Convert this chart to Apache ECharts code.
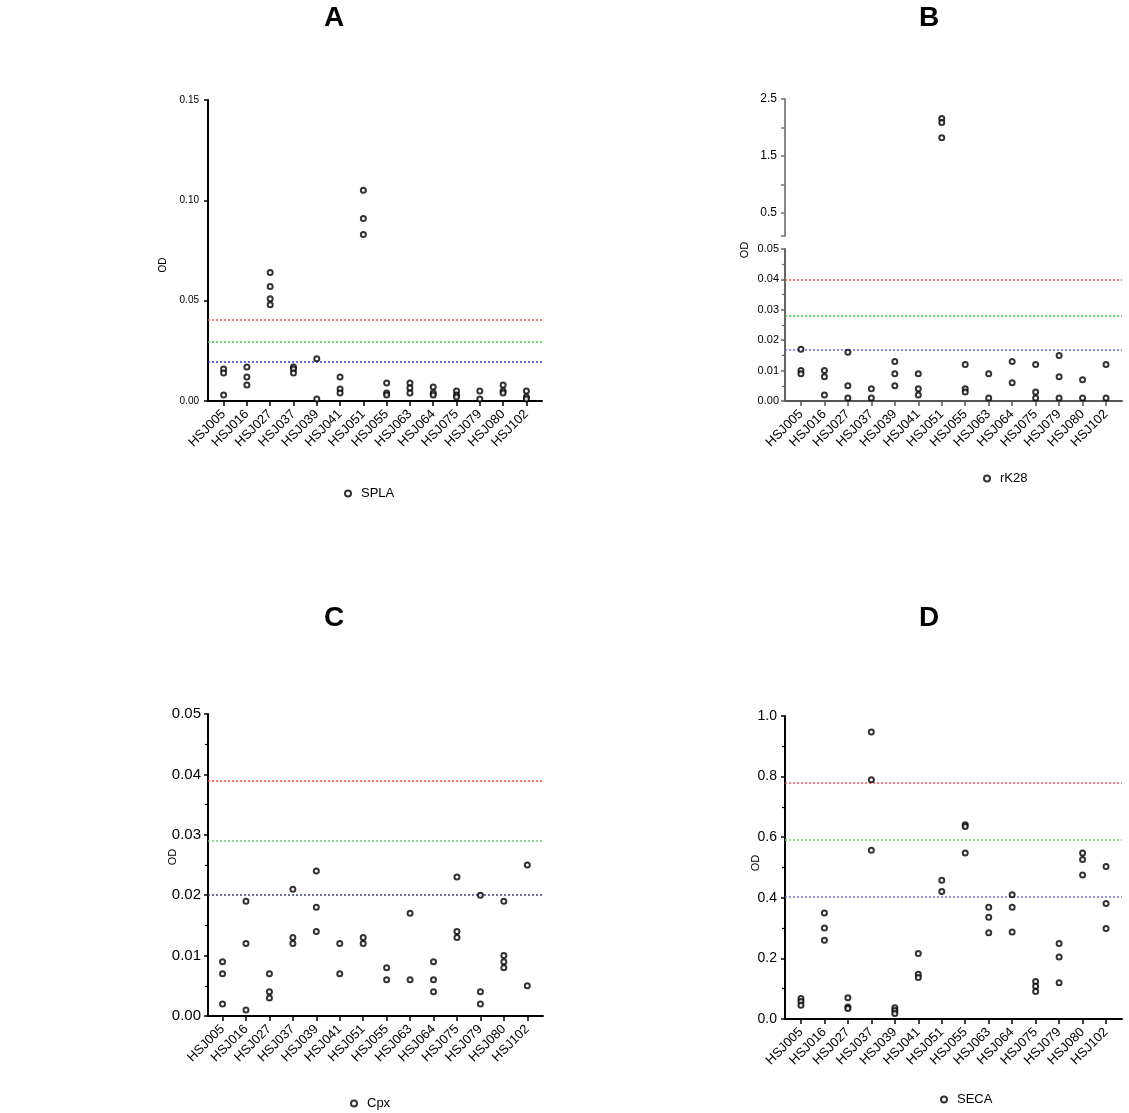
<!DOCTYPE html>
<html>
<head>
<meta charset="utf-8">
<script src="https://cdn.jsdelivr.net/npm/echarts@6/dist/echarts.min.js"></script>
<style>
html,body{margin:0;padding:0;background:#fff;}
#chart{width:1129px;height:1113px;}
</style>
</head>
<body>
<div id="chart"></div>
<script>
// ---------- data ----------
const categories = ['HSJ005','HSJ016','HSJ027','HSJ037','HSJ039','HSJ041','HSJ051','HSJ055','HSJ063','HSJ064','HSJ075','HSJ079','HSJ080','HSJ102'];

const splaValues = [[0.016,0.014,0.003],[0.017,0.012,0.008],[0.064,0.057,0.051,0.048],[0.017,0.016,0.014],[0.021,0.001],[0.012,0.006,0.004],[0.105,0.091,0.083],[0.009,0.004,0.003],[0.009,0.0065,0.004],[0.007,0.004,0.003],[0.005,0.003,0.002],[0.005,0.001],[0.008,0.005,0.004],[0.005,0.002,0.001]];
const splaCutoffs = [0.0405, 0.0296, 0.0196];

const rk28Values = [[0.017,0.010,0.009],[0.010,0.008,0.002],[0.016,0.005,0.001],[0.004,0.001],[0.013,0.009,0.005],[0.009,0.004,0.002],[2.16,2.09,1.82],[0.012,0.004,0.003],[0.009,0.001],[0.013,0.006],[0.012,0.003,0.001],[0.015,0.008,0.001],[0.007,0.001],[0.012,0.001]];
const rk28Cutoffs = [0.040, 0.028, 0.017];

const cpxValues = [[0.009,0.007,0.002],[0.019,0.012,0.001],[0.007,0.004,0.003],[0.021,0.013,0.012],[0.024,0.018,0.014],[0.012,0.007],[0.013,0.012],[0.008,0.006],[0.017,0.006],[0.009,0.006,0.004],[0.023,0.014,0.013],[0.020,0.004,0.002],[0.019,0.010,0.009,0.008],[0.025,0.005]];
const cpxCutoffs = [0.039, 0.029, 0.020];

const secaValues = [[0.068,0.058,0.045],[0.35,0.30,0.26],[0.07,0.04,0.035],[0.947,0.79,0.557],[0.037,0.028,0.018],[0.216,0.148,0.137],[0.458,0.421],[0.641,0.635,0.548],[0.369,0.336,0.285],[0.41,0.369,0.287],[0.124,0.108,0.091],[0.249,0.205,0.12],[0.548,0.526,0.475],[0.503,0.381,0.299]];
const secaCutoffs = [0.779, 0.591, 0.403];

const yTicksBUpper = [0.5, 1.5, 2.5];

// ---------- helpers ----------
const FONT = "'Liberation Sans', Arial, sans-serif";
const catIdx = categories.map((c, i) => i);

function points(values, filterFn) {
  const out = [];
  values.forEach((arr, i) => arr.forEach(v => { if (!filterFn || filterFn(v)) out.push([i, v]); }));
  return out;
}

function xAxis(gridIndex, show, min, max, fontSize, lineColor) {
  return {
    type: 'value', gridIndex, min, max, show,
    splitLine: {show: false},
    axisLine: {show: true, onZero: false, lineStyle: {color: lineColor, width: 2}},
    axisTick: {show: true, length: 5, customValues: catIdx, lineStyle: {color: lineColor, width: 1.5}},
    axisLabel: {
      show: true, customValues: catIdx, rotate: 45, margin: 11,
      fontFamily: FONT, fontSize, color: '#000',
      formatter: v => categories[Math.round(v)]
    }
  };
}

function yAxis(gridIndex, min, max, interval, digits, fontSize, lineColor, margin, minor) {
  return {
    type: 'value', gridIndex, min, max, interval,
    splitLine: {show: false},
    axisLine: {show: true, onZero: false, lineStyle: {color: lineColor, width: 2}},
    axisTick: {show: true, length: 4, lineStyle: {color: lineColor, width: 1.5}},
    minorTick: {show: !!minor, splitNumber: 2, length: 3, lineStyle: {color: lineColor, width: 1.2}},
    axisLabel: {fontFamily: FONT, fontSize, color: '#000', margin, formatter: v => v.toFixed(digits)}
  };
}

function cutLines(vals, colors) {
  return {
    silent: true, precision: 6, symbol: ['none', 'none'], label: {show: false},
    data: vals.map((v, i) => ({yAxis: v, lineStyle: {color: colors[i], type: [2, 2], width: 1.5}}))
  };
}

const markerStyle = {color: '#fff', borderColor: '#000', borderWidth: 2};

function scatter(name, xi, yi, data, cut, colors) {
  const s = {
    name, type: 'scatter', xAxisIndex: xi, yAxisIndex: yi, data,
    symbol: 'circle', symbolSize: 5, itemStyle: markerStyle,
    emphasis: {disabled: true}, z: 5
  };
  if (cut) s.markLine = cutLines(cut, colors);
  return s;
}

function legend(name, left, top) {
  return {
    data: [{name, icon: 'circle'}], left, top, itemWidth: 6, itemHeight: 6,
    selectedMode: false,
    textStyle: {fontFamily: FONT, fontSize: 13, color: '#000', padding: [0, 0, 0, 5]}
  };
}

function title(text, x, y) {
  return {type: 'text', x, y, style: {text, fontFamily: FONT, fontSize: 28, fontWeight: 'bold', fill: '#000', align: 'center', verticalAlign: 'middle'}};
}
function odLabel(x, y, size) {
  return {type: 'text', x, y, rotation: Math.PI / 2, style: {text: 'OD', fontFamily: FONT, fontSize: size, fill: '#000', align: 'center', verticalAlign: 'middle'}};
}

// ---------- option ----------
const option = {
  backgroundColor: '#fff',
  animation: false,
  grid: [
    {left: 208, top: 100, width: 334, height: 301},   // A
    {left: 785, top: 99, width: 337, height: 137},    // B upper
    {left: 785, top: 249, width: 337, height: 152},   // B lower
    {left: 208, top: 714, width: 335, height: 302},   // C
    {left: 785, top: 716, width: 337, height: 303}    // D
  ],
  xAxis: [
    xAxis(0, true, -0.67, 13.67, 13, '#000'),
    xAxis(1, false, -0.68, 13.68, 13, '#666'),
    xAxis(2, true, -0.68, 13.68, 13, '#555'),
    xAxis(3, true, -0.62, 13.67, 13, '#000'),
    xAxis(4, true, -0.68, 13.68, 13, '#000')
  ],
  yAxis: [
    yAxis(0, 0, 0.15, 0.05, 2, 10, '#000', 9, false),
    {
      type: 'value', gridIndex: 1, min: 0.1, max: 2.5,
      splitLine: {show: false},
      axisLine: {show: true, onZero: false, lineStyle: {color: '#888', width: 2}},
      axisTick: {show: true, length: 4, customValues: [0.1, 0.5, 1, 1.5, 2, 2.5], lineStyle: {color: '#777', width: 1.5}},
      axisLabel: {customValues: yTicksBUpper, fontFamily: FONT, fontSize: 12, color: '#000', margin: 8, formatter: v => v.toFixed(1)}
    },
    yAxis(2, 0, 0.05, 0.01, 2, 11, '#666', 6, true),
    yAxis(3, 0, 0.05, 0.01, 2, 15, '#000', 7, true),
    yAxis(4, 0, 1.0, 0.2, 1, 14, '#000', 8, true)
  ],
  legend: [
    legend('SPLA', 339, 482),
    legend('rK28', 978, 467),
    legend('Cpx', 345, 1092),
    legend('SECA', 935, 1088)
  ],
  series: [
    scatter('SPLA', 0, 0, points(splaValues), splaCutoffs, ['#f05050', '#45c245', '#3535c8']),
    scatter('rK28', 1, 1, points(rk28Values, v => v >= 0.1), null, null),
    scatter('rK28', 2, 2, points(rk28Values, v => v < 0.1), rk28Cutoffs, ['#ff4040', '#33cc33', '#6b6bf0']),
    scatter('Cpx', 3, 3, points(cpxValues), cpxCutoffs, ['#ff4040', '#70cf70', '#3a3a9a']),
    scatter('SECA', 4, 4, points(secaValues), secaCutoffs, ['#ff5050', '#66cc66', '#7070f0'])
  ],
  graphic: [
    title('A', 334, 18), title('B', 929, 18), title('C', 334, 618), title('D', 929, 618),
    odLabel(163, 265, 10), odLabel(745, 250, 11), odLabel(173, 857, 11), odLabel(756, 863, 11)
  ]
};

const chart = echarts.init(document.getElementById('chart'), null, {renderer: 'canvas'});
chart.setOption(option);
</script>
</body>
</html>
